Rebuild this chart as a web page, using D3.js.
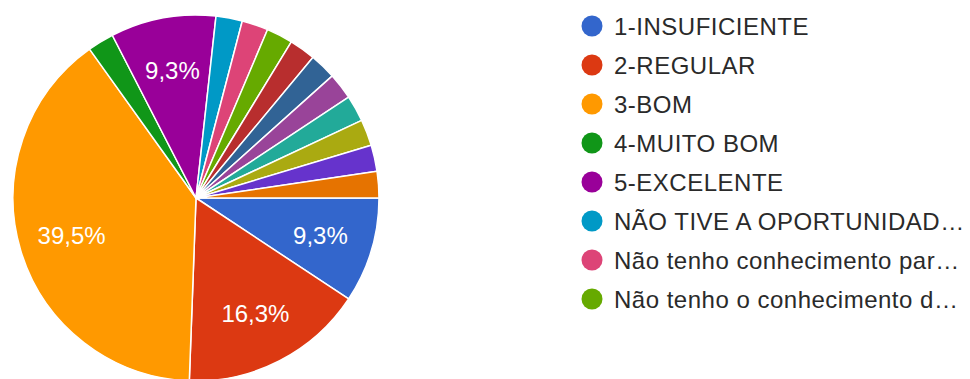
<!DOCTYPE html>
<html>
<head>
<meta charset="utf-8">
<script src="https://cdn.jsdelivr.net/npm/d3@7"></script>
<style>
  html, body { margin: 0; padding: 0; background: #fff; }
  svg { display: block; }
  text { font-family: Arial, "Liberation Sans", sans-serif; }
</style>
</head>
<body>
<svg id="chart" width="970" height="379"></svg>
<script>
// Answer categories (the legend shows its first page of entries)
const categories = [
  "1-INSUFICIENTE",
  "2-REGULAR",
  "3-BOM",
  "4-MUITO BOM",
  "5-EXCELENTE",
  "NÃO TIVE A OPORTUNIDADE DE AVALIAR",
  "Não tenho conhecimento para avaliar",
  "Não tenho o conhecimento do assunto",
  "Resposta 9",
  "Resposta 10",
  "Resposta 11",
  "Resposta 12",
  "Resposta 13",
  "Resposta 14",
  "Resposta 15"
];

// Number of responses per category
const responses = [4, 7, 17, 1, 4, 1, 1, 1, 1, 1, 1, 1, 1, 1, 1];

// Slice colours
const palette = [
  "#3366cc", "#dc3912", "#ff9900", "#109618", "#990099",
  "#0099c6", "#dd4477", "#66aa00", "#b82e2e", "#316395",
  "#994499", "#22aa99", "#aaaa11", "#6633cc", "#e67300"
];

// Legend labels as displayed (truncated entries end with an ellipsis)
const legendLabels = [
  "1-INSUFICIENTE",
  "2-REGULAR",
  "3-BOM",
  "4-MUITO BOM",
  "5-EXCELENTE",
  "NÃO TIVE A OPORTUNIDAD…",
  "Não tenho conhecimento par…",
  "Não tenho o conhecimento d…"
];

const data = categories.map((c, i) => ({ category: c, value: responses[i] }));
const total = d3.sum(responses);

const svg = d3.select("#chart");
const cx = 196, cy = 198, radius = 183;

const color = d3.scaleOrdinal().domain(categories).range(palette);

// Slices start at three o'clock and run clockwise in data order
const pie = d3.pie()
  .value(d => d.value)
  .sort(null)
  .startAngle(Math.PI / 2)
  .endAngle(Math.PI / 2 + 2 * Math.PI);

const arc = d3.arc().innerRadius(0).outerRadius(radius);
const labelArc = d3.arc().innerRadius(radius * 0.71).outerRadius(radius * 0.71);

const g = svg.append("g").attr("transform", `translate(${cx},${cy})`);
const arcs = pie(data);

g.selectAll("path.slice")
  .data(arcs)
  .join("path")
  .attr("class", "slice")
  .attr("d", arc)
  .attr("fill", d => color(d.data.category))
  .attr("stroke", "#ffffff")
  .attr("stroke-width", 1.5)
  .attr("stroke-linejoin", "round");

const fmt = v => d3.format(".1f")(v * 100).replace(".", ",") + "%";

g.selectAll("text.pct")
  .data(arcs.filter(d => d.data.value / total > 0.05))
  .join("text")
  .attr("class", "pct")
  .attr("transform", d => `translate(${labelArc.centroid(d)})`)
  .attr("text-anchor", "middle")
  .attr("dominant-baseline", "central")
  .attr("fill", "#ffffff")
  .attr("font-size", 24)
  .text(d => fmt(d.data.value / total));

// Legend
const legendX = 592, legendY0 = 26, legendStep = 39;
const legend = svg.append("g");
const items = legend.selectAll("g.item")
  .data(legendLabels)
  .join("g")
  .attr("class", "item")
  .attr("transform", (d, i) => `translate(${legendX},${legendY0 + i * legendStep})`);

items.append("circle")
  .attr("r", 10.5)
  .attr("fill", (d, i) => palette[i]);

items.append("text")
  .attr("x", 22)
  .attr("dominant-baseline", "central")
  .attr("font-size", 24)
  .attr("letter-spacing", 0.5)
  .attr("fill", "#2a2a2a")
  .text(d => d);
</script>
</body>
</html>
